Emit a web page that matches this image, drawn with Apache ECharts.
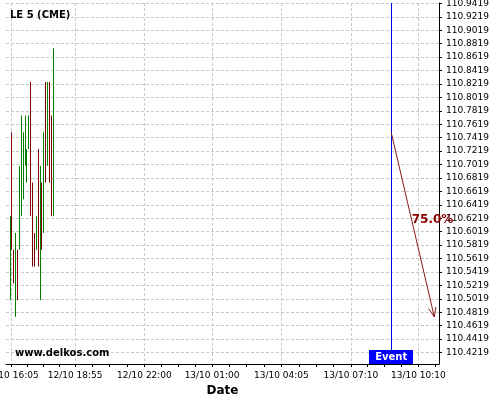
<!DOCTYPE html>
<html><head><meta charset="utf-8">
<script src="https://cdn.jsdelivr.net/npm/echarts@6/dist/echarts.min.js"></script>
<style>html,body{margin:0;padding:0;background:#fff}#c{width:500px;height:400px}</style>
</head><body><div id="c"></div>
<script>
const FONT = '"DejaVu Sans", sans-serif';
const titleText = 'LE 5 (CME)';
const watermark = 'www.delkos.com';
const xAxisName = 'Date';

// 5-minute bars (start time of each bar)
const barTimes = ['12/10 16:00','12/10 16:05','12/10 16:10','12/10 16:15','12/10 16:20','12/10 16:25',
  '12/10 16:30','12/10 16:35','12/10 16:40','12/10 16:45','12/10 16:50','12/10 16:55',
  '12/10 17:00','12/10 17:05','12/10 17:10','12/10 17:15','12/10 17:20','12/10 17:25',
  '12/10 17:30','12/10 17:35','12/10 17:40','12/10 17:45','12/10 17:50','12/10 17:55'];
const barHigh = [110.625,110.750,110.575,110.600,110.575,110.700,110.775,110.750,110.775,110.725,110.775,110.825,
                 110.675,110.600,110.625,110.725,110.700,110.675,110.750,110.825,110.825,110.825,110.775,110.875];
const barLow  = [110.500,110.575,110.525,110.475,110.500,110.575,110.625,110.650,110.700,110.675,110.725,110.625,
                 110.550,110.550,110.575,110.550,110.500,110.575,110.600,110.675,110.700,110.675,110.625,110.625];
const barUp   = [1,0,0,1,0,1,1,1,1,1,1,0,0,0,1,0,1,0,1,0,1,0,0,1];

const xTickLabels = ['12/10 16:05','12/10 18:55','12/10 22:00','13/10 01:00','13/10 04:05','13/10 07:10','13/10 10:10'];
const yTickLabels = ['110.4219','110.4419','110.4619','110.4819','110.5019','110.5219','110.5419','110.5619',
  '110.5819','110.6019','110.6219','110.6419','110.6619','110.6819','110.7019','110.7219','110.7419','110.7619',
  '110.7819','110.8019','110.8219','110.8419','110.8619','110.8819','110.9019','110.9219','110.9419'];

const eventTime = '13/10 08:55';
const eventLabel = 'Event';
const arrowStart = ['13/10 08:55', 110.750];
const arrowEnd = ['13/10 10:50', 110.475];
const arrowLabel = '75.0%';

const X_MIN = 951, X_MAX = 2105, Y_MIN = 110.4048, Y_MAX = 110.9425;
const HALF = 2.5; // bars are drawn at the middle of their 5-minute slot

function toMin(s) {
  const [d, t] = s.split(' ');
  const day = +d.split('/')[0];
  const [h, m] = t.split(':').map(Number);
  return (day - 12) * 1440 + h * 60 + m;
}
const xTicks = xTickLabels.map(toMin);
const minorTicks = [];
for (let i = 0; i < xTicks.length - 1; i++) for (let j = 0; j < 4; j++) minorTicks.push(xTicks[i] + (xTicks[i + 1] - xTicks[i]) * j / 4);
minorTicks.push(xTicks[xTicks.length - 1], xTicks[xTicks.length - 1] + 45);
const yTicks = yTickLabels.map(Number);

const candleData = barTimes.map((t, i) => {
  const up = barUp[i] === 1;
  return [toMin(t) + HALF, up ? barLow[i] : barHigh[i], up ? barHigh[i] : barLow[i], barLow[i], barHigh[i]];
});

const chart = echarts.init(document.getElementById('c'), null, {renderer: 'canvas'});
chart.setOption({
  animation: false,
  backgroundColor: '#fff',
  title: {text: titleText, left: 10, top: 10, padding: 0,
    textStyle: {fontSize: 10, fontWeight: 'bold', color: '#000', fontFamily: FONT}},
  graphic: [{type: 'text', left: 15, top: 348, z: 10,
    style: {text: watermark, font: 'bold 10px ' + FONT, fill: '#000'}}],
  grid: {left: 6, right: 61, top: 3, bottom: 36, containLabel: false, outerBoundsMode: 'none'},
  xAxis: [{
    type: 'value', min: X_MIN, max: X_MAX, position: 'bottom',
    name: xAxisName, nameLocation: 'middle', nameGap: 19,
    nameTextStyle: {fontSize: 12, fontWeight: 'bold', color: '#000', fontFamily: FONT},
    axisLine: {show: true, onZero: false, lineStyle: {color: '#000', width: 1}},
    axisTick: {show: true, length: 3, customValues: xTicks, lineStyle: {color: '#000'}},
    axisLabel: {customValues: xTicks, fontSize: 9, color: '#000', margin: 7, fontFamily: FONT,
      formatter: v => { let bi = 0; xTicks.forEach((t, i) => { if (Math.abs(t - v) < Math.abs(xTicks[bi] - v)) bi = i; }); return xTickLabels[bi]; }},
    splitLine: {show: true, lineStyle: {type: [3, 2], color: '#c8c8c8', width: 1}}
  }, {
    type: 'value', min: X_MIN, max: X_MAX, position: 'bottom',
    axisLine: {show: false},
    axisTick: {show: true, length: 3, customValues: minorTicks, lineStyle: {color: '#000'}},
    axisLabel: {show: false},
    splitLine: {show: false}
  }],
  yAxis: {
    type: 'value', min: Y_MIN, max: Y_MAX, position: 'right',
    axisLine: {show: true, onZero: false, lineStyle: {color: '#000', width: 1}},
    axisTick: {show: true, length: 3, customValues: yTicks, lineStyle: {color: '#000'}},
    axisLabel: {customValues: yTicks, fontSize: 9, color: '#000', margin: 7, fontFamily: FONT,
      formatter: v => v.toFixed(4)},
    splitLine: {show: true, lineStyle: {type: [3, 2], color: '#c8c8c8', width: 1}}
  },
  series: [{
    type: 'candlestick', xAxisIndex: 0, yAxisIndex: 0,
    encode: {x: 0, y: [1, 2, 3, 4]},
    data: candleData,
    barWidth: 1,
    silent: true,
    itemStyle: {color: '#008000', color0: '#800000', borderColor: '#008000', borderColor0: '#800000', borderWidth: 1}
  }, {
    type: 'custom', xAxisIndex: 0, yAxisIndex: 0, silent: true, z: 5,
    data: [[toMin(eventTime) + HALF]],
    encode: {x: 0},
    renderItem: (params, api) => {
      const cs = params.coordSys;
      const x = api.coord([api.value(0), Y_MIN])[0];
      const xr = Math.round(x) + 0.5;
      const bottom = cs.y + cs.height;
      return {type: 'group', children: [
        {type: 'line', shape: {x1: xr, y1: cs.y, x2: xr, y2: bottom}, style: {stroke: '#0000ee', lineWidth: 1}},
        {type: 'rect', shape: {x: Math.round(x) - 22, y: bottom - 14, width: 44, height: 14}, style: {fill: '#0000ff'}},
        {type: 'text', style: {text: eventLabel, x: x, y: bottom - 6.5, align: 'center', verticalAlign: 'middle',
          fill: '#fff', font: 'bold 10px ' + FONT}}
      ]};
    }
  }, {
    type: 'custom', xAxisIndex: 0, yAxisIndex: 0, silent: true, z: 6,
    data: [[toMin(arrowStart[0]) + HALF, arrowStart[1], toMin(arrowEnd[0]) + HALF, arrowEnd[1]]],
    encode: {x: [0, 2], y: [1, 3]},
    renderItem: (params, api) => {
      const p0 = api.coord([api.value(0), api.value(1)]);
      const p1 = api.coord([api.value(2), api.value(3)]);
      const ang = Math.atan2(p1[1] - p0[1], p1[0] - p0[0]);
      const L = 10, a = 0.38;
      const h1 = [p1[0] - L * Math.cos(ang - a), p1[1] - L * Math.sin(ang - a)];
      const h2 = [p1[0] - L * Math.cos(ang + a), p1[1] - L * Math.sin(ang + a)];
      const mid = [(p0[0] + p1[0]) / 2, (p0[1] + p1[1]) / 2];
      return {type: 'group', children: [
        {type: 'line', shape: {x1: p0[0], y1: p0[1], x2: p1[0], y2: p1[1]}, style: {stroke: '#8b1a1a', lineWidth: 1}},
        {type: 'polyline', shape: {points: [h1, p1, h2]}, style: {stroke: '#8b1a1a', lineWidth: 1, fill: null}},
        {type: 'text', style: {text: arrowLabel, x: mid[0] - 1, y: mid[1] + 1, align: 'left', verticalAlign: 'bottom',
          fill: '#8b0000', font: 'bold 12px ' + FONT}}
      ]};
    }
  }]
});
</script>
</body></html>
